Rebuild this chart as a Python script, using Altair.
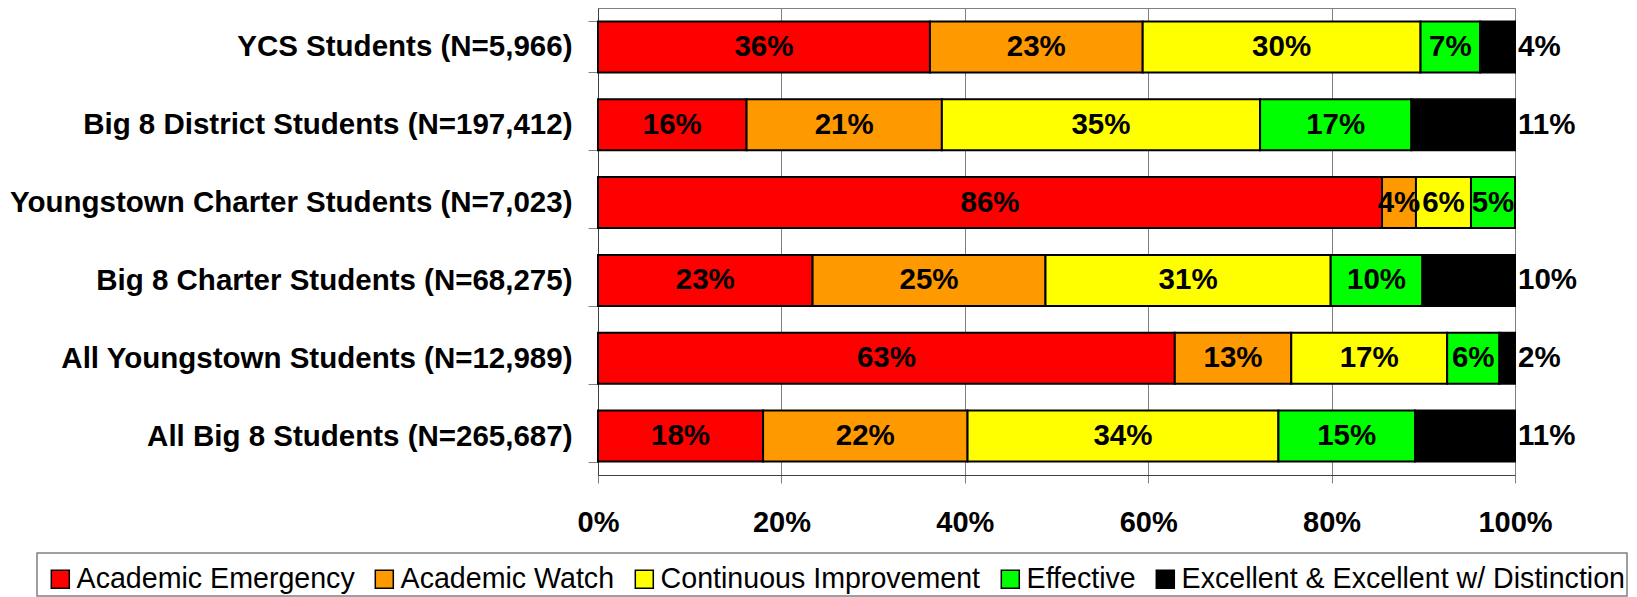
import altair as alt
import pandas as pd

groups = [
    "YCS Students (N=5,966)",
    "Big 8 District Students (N=197,412)",
    "Youngstown Charter Students (N=7,023)",
    "Big 8 Charter Students (N=68,275)",
    "All Youngstown Students (N=12,989)",
    "All Big 8 Students (N=265,687)",
]
levels = [
    "Academic Emergency",
    "Academic Watch",
    "Continuous Improvement",
    "Effective",
    "Excellent & Excellent w/ Distinction",
]
colors = ["#FF0000", "#FF9900", "#FFFF00", "#00FF00", "#000000"]

emergency = [36.2, 16.2, 85.5, 23.4, 62.9, 18.0]
watch = [23.2, 21.3, 3.7, 25.4, 12.7, 22.3]
continuous = [30.3, 34.7, 6.0, 31.1, 17.0, 33.9]
effective = [6.5, 16.5, 4.8, 10.0, 5.7, 14.9]
excellent = [3.8, 11.3, 0.0, 10.1, 1.7, 10.9]

tick_values = [0, 20, 40, 60, 80, 100]

series = [emergency, watch, continuous, effective, excellent]
rows = []
for gi, g in enumerate(groups):
    for li, lev in enumerate(levels):
        rows.append({"group": g, "level": lev, "order": li, "value": series[li][gi]})
df = pd.DataFrame(rows)

FONT = "Liberation Sans"

base = alt.Chart(df)

# legend frame (decoration drawn behind the legend)
frame = alt.Chart(pd.DataFrame({"k": [0]})).mark_rect(
    fill="white", stroke="#808080", strokeWidth=1.5
).encode(
    x=alt.value(-561), x2=alt.value(1029), y=alt.value(545), y2=alt.value(588)
)

y_enc = alt.Y(
    "group:N",
    sort=groups,
    title=None,
    scale=alt.Scale(paddingInner=0.344, paddingOuter=0.172),
    axis=alt.Axis(
        labelFont=FONT,
        labelFontSize=29.5,
        labelFontWeight="bold",
        labelColor="black",
        labelPadding=16,
        labelLimit=1000,
        tickBand="extent",
        tickSize=10,
        tickColor="#808080",
        domainColor="#404040",
        grid=False,
    ),
)

bars = base.mark_bar(stroke="black", strokeWidth=2).encode(
    y=y_enc,
    x=alt.X(
        "value:Q",
        stack="zero",
        title=None,
        scale=alt.Scale(domain=[0, 100], nice=False),
        axis=alt.Axis(
            values=tick_values,
            labelExpr="datum.value + '%'",
            labelFont=FONT,
            labelFontSize=29,
            labelFontWeight="bold",
            labelColor="black",
            labelFlush=False,
            labelPadding=25,
            tickSize=8,
            tickColor="#808080",
            grid=True,
            gridColor="#808080",
            domainColor="#404040",
        ),
    ),
    color=alt.Color(
        "level:N",
        sort=levels,
        scale=alt.Scale(domain=levels, range=colors),
        legend=alt.Legend(
            title=None,
            orient="none",
            legendX=-564,
            legendY=545,
            direction="horizontal",
            columns=5,
            symbolType="square",
            symbolSize=324,
            symbolStrokeColor="black",
            symbolStrokeWidth=1.5,
            labelFont=FONT,
            labelFontSize=28.6,
            labelColor="black",
            labelOffset=2,
            labelLimit=1000,
            columnPadding=15,
            padding=12,
        ),
    ),
    order=alt.Order("order:Q"),
)

stacked = base.transform_stack(
    stack="value", groupby=["group"], as_=["x0", "x1"], sort=[alt.SortField("order")]
).transform_calculate(
    mid="(datum.x0 + datum.x1) / 2",
    label="round(datum.value) + '%'",
)

inner_labels = stacked.transform_filter("datum.order < 4").mark_text(
    font=FONT, fontSize=29.5, fontWeight="bold", color="black"
).encode(
    x=alt.X("mid:Q", title=None),
    y=alt.Y("group:N", sort=groups, title=None),
    text="label:N",
)

outer_labels = stacked.transform_filter("datum.order == 4 && datum.value >= 0.5").mark_text(
    font=FONT, fontSize=29.5, fontWeight="bold", color="black", align="left", dx=3
).encode(
    x=alt.X("x1:Q", title=None),
    y=alt.Y("group:N", sort=groups, title=None),
    text="label:N",
)

chart = alt.layer(frame, bars, inner_labels, outer_labels).properties(
    width=917,
    height=467,
    autosize=alt.AutoSizeParams(type="none"),
    padding={"left": 590, "top": 0, "right": 114, "bottom": 122},
    background="white",
).configure_view(stroke="#808080")

chart.save("out.html", embed_options={"renderer": "svg", "actions": False})
